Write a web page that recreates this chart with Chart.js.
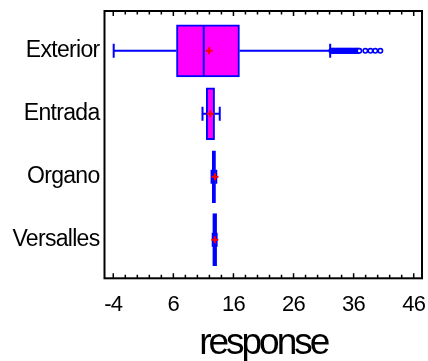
<!DOCTYPE html>
<html>
<head>
<meta charset="utf-8">
<script src="https://cdn.jsdelivr.net/npm/chart.js@4.4.1/dist/chart.umd.min.js"></script>
<style>
  html, body { margin: 0; padding: 0; background: #fff; }
  canvas { display: block; }
</style>
</head>
<body>
<canvas id="cvBox" width="428" height="361"></canvas>
<script>
// box plot summaries, one entry per group
var categories = ["Exterior", "Entrada", "Organo", "Versalles"];
var whiskerLow = [-3.93, 10.85, 12.36, 12.55];
var q1 = [6.52, 11.48, 12.47, 12.55];
var medians = [11.06, 11.6, 12.75, 12.85];
var q3 = [17.0, 12.86, 13.02, 13.2];
var whiskerHigh = [32.1, 13.72, 13.14, 13.2];
var means = [11.94, 12.14, 12.93, 12.9];
var exteriorOutliers = [32.3, 32.45, 32.6, 32.75, 32.9, 33.05, 33.2, 33.35, 33.5, 33.65, 33.8,
    33.95, 34.1, 34.25, 34.4, 34.55, 34.7, 34.85, 35.0, 35.15, 35.3, 35.45, 35.6, 35.75, 35.9,
    36.05, 36.2, 36.35, 36.5, 36.65, 36.8, 36.95, 37.95, 38.8, 39.6, 40.45];
var xTickValues = [-4, 6, 16, 26, 36, 46];
var minorStep = 2;

var BLUE = "#0000ff";
var FONT = "'Liberation Sans', Arial, sans-serif";
var BOX_HEIGHT = 52;
var CAP_HALF = 7;

// frame round the plot area, with tick marks pointing inwards
var framePlugin = {
    id: "frame",
    beforeDatasetsDraw: function(chart) {
        var ctx = chart.ctx, a = chart.chartArea, x = chart.scales.x;
        ctx.save();
        ctx.strokeStyle = "#000";
        ctx.lineWidth = 2;
        ctx.strokeRect(a.left, a.top, a.right - a.left, a.bottom - a.top);
        ctx.lineWidth = 1.5;
        ctx.beginPath();
        for (var v = xTickValues[0]; v <= xTickValues[xTickValues.length - 1]; v += minorStep) {
            var px = x.getPixelForValue(v);
            var len = xTickValues.indexOf(v) >= 0 ? 5 : 3.5;
            ctx.moveTo(px, a.top);
            ctx.lineTo(px, a.top + len);
            ctx.moveTo(px, a.bottom);
            ctx.lineTo(px, a.bottom - len);
        }
        ctx.stroke();
        ctx.restore();
    }
};

// whiskers, caps and median lines, drawn right after the boxes
var whiskerPlugin = {
    id: "whiskers",
    afterDatasetDraw: function(chart, args) {
        if (args.index !== 0) return;
        var ctx = chart.ctx, x = chart.scales.x, y = chart.scales.y;
        ctx.save();
        ctx.strokeStyle = BLUE;
        ctx.lineWidth = 2;
        for (var i = 0; i < categories.length; i++) {
            var yc = y.getPixelForValue(i + 1);
            var lo = x.getPixelForValue(whiskerLow[i]);
            var hi = x.getPixelForValue(whiskerHigh[i]);
            var b1 = x.getPixelForValue(q1[i]);
            var b3 = x.getPixelForValue(q3[i]);
            var md = x.getPixelForValue(medians[i]);
            ctx.beginPath();
            ctx.moveTo(lo, yc); ctx.lineTo(b1, yc);
            ctx.moveTo(b3, yc); ctx.lineTo(hi, yc);
            ctx.moveTo(lo, yc - CAP_HALF); ctx.lineTo(lo, yc + CAP_HALF);
            ctx.moveTo(hi, yc - CAP_HALF); ctx.lineTo(hi, yc + CAP_HALF);
            ctx.moveTo(md, yc - BOX_HEIGHT / 2 + 1); ctx.lineTo(md, yc + BOX_HEIGHT / 2 - 1);
            ctx.stroke();
        }
        ctx.restore();
    }
};

// tight letter spacing like the original output; the axis title is squeezed harder
var spacingPlugin = {
    id: "spacing",
    afterLayout: function(chart) {
        var xs = chart.scales.x;
        if (xs._squeezed) return;
        var base = xs.drawTitle;
        xs.drawTitle = function() {
            this.ctx.save();
            this.ctx.letterSpacing = "-3px";
            base.call(this);
            this.ctx.restore();
        };
        xs._squeezed = true;
    },
    beforeDraw: function(chart) {
        chart.ctx.letterSpacing = "-0.7px";
    }
};

new Chart(document.getElementById("cvBox"), {
    type: "bar",
    data: {
        datasets: [{
            type: "bar",
            data: categories.map(function(c, i) { return { x: [q1[i], q3[i]], y: i + 1 }; }),
            backgroundColor: "#ff00ff",
            borderColor: BLUE,
            borderWidth: 2,
            borderSkipped: false,
            barThickness: BOX_HEIGHT,
            order: 3
        }, {
            type: "scatter",
            data: exteriorOutliers.map(function(v) { return { x: v, y: 1 }; }),
            pointStyle: "circle",
            pointRadius: 2.2,
            borderColor: BLUE,
            backgroundColor: "#fff",
            borderWidth: 1.6,
            order: 2
        }, {
            type: "scatter",
            data: means.map(function(m, i) { return { x: m, y: i + 1 }; }),
            pointStyle: "cross",
            pointRadius: 3.5,
            borderColor: "#ff0000",
            borderWidth: 2,
            order: 1
        }]
    },
    options: {
        indexAxis: "y",
        responsive: false,
        devicePixelRatio: 1,
        animation: false,
        events: [],
        layout: { padding: { left: 0, right: 4.7, top: 11, bottom: 0 } },
        plugins: {
            legend: { display: false },
            tooltip: { enabled: false }
        },
        scales: {
            x: {
                type: "linear",
                position: "bottom",
                min: -5.46,
                max: 47.38,
                grid: { display: false, drawTicks: false },
                border: { display: false },
                afterBuildTicks: function(scale) {
                    scale.ticks = xTickValues.map(function(v) { return { value: v }; });
                },
                afterFit: function(scale) {
                    scale.height = 82.7;
                    scale.paddingLeft = 0;
                    scale.paddingRight = 0;
                },
                ticks: {
                    autoSkip: false,
                    maxRotation: 0,
                    padding: 16,
                    color: "#000",
                    font: { family: FONT, size: 22, lineHeight: 1 },
                    callback: function(v) { return String(v); }
                },
                title: {
                    display: true,
                    text: "response",
                    color: "#000",
                    font: { family: FONT, size: 37, lineHeight: 1 },
                    padding: { top: 0, bottom: -1 }
                }
            },
            y: {
                type: "linear",
                position: "left",
                reverse: true,
                offset: false,
                min: 0.368,
                max: 4.613,
                grid: { display: false, drawTicks: false, offset: false },
                border: { display: false },
                afterBuildTicks: function(scale) {
                    scale.ticks = categories.map(function(c, i) { return { value: i + 1 }; });
                },
                afterFit: function(scale) {
                    scale.width = 104.5;
                    scale.paddingTop = 0;
                    scale.paddingBottom = 0;
                },
                ticks: {
                    padding: 5,
                    color: "#000",
                    font: { family: FONT, size: 23, lineHeight: 1 },
                    callback: function(v) { return categories[v - 1]; }
                }
            }
        }
    },
    plugins: [framePlugin, whiskerPlugin, spacingPlugin]
});
</script>
</body>
</html>
